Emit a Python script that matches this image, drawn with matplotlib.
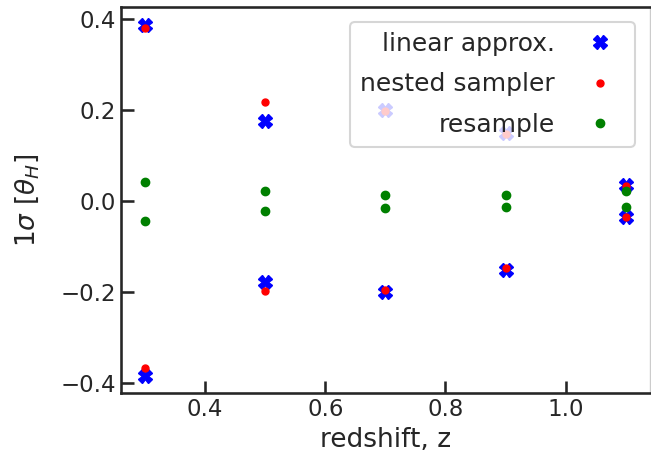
import matplotlib as mpl
mpl.use('Agg')
import matplotlib.pyplot as plt
import seaborn as sns

sns.set_theme(context='talk', style='ticks')
plt.rcParams['xtick.direction'] = 'in'
plt.rcParams['ytick.direction'] = 'in'

# redshift bins
z = [0.3, 0.5, 0.7, 0.9, 1.1]

# upper / lower 1-sigma bounds on theta_H
lin_up = [0.387, 0.175, 0.199, 0.150, 0.036]
lin_lo = [-0.383, -0.177, -0.200, -0.152, -0.036]
nest_up = [0.380, 0.218, 0.198, 0.147, 0.033]
nest_lo = [-0.367, -0.198, -0.196, -0.146, -0.035]
res_up = [0.042, 0.022, 0.013, 0.014, 0.021]
res_lo = [-0.043, -0.021, -0.016, -0.014, -0.014]

fig = plt.figure(figsize=(6.51, 4.68), dpi=100)
ax = fig.add_axes([0.186, 0.160, 0.812, 0.825])

ax.plot(z, lin_up, 'X', color='blue', ms=9.5, label='linear approx.')
ax.plot(z, lin_lo, 'X', color='blue', ms=9.5)
ax.plot(z, nest_up, 'o', color='red', ms=5, label='nested sampler')
ax.plot(z, nest_lo, 'o', color='red', ms=5)
ax.plot(z, res_up, 'o', color='green', ms=6, label='resample')
ax.plot(z, res_lo, 'o', color='green', ms=6)

ax.spines['right'].set_color('#cccccc')
ax.spines['right'].set_linewidth(1)
ax.set_xlabel('redshift, z', fontsize=19)
ax.set_ylabel(r'$1\sigma\ [\theta_H]$', fontsize=19, labelpad=14)
ax.legend(loc='upper right', markerfirst=False, fontsize=18,
          labelspacing=0.65, borderaxespad=0.6)

plt.savefig('out.png')
